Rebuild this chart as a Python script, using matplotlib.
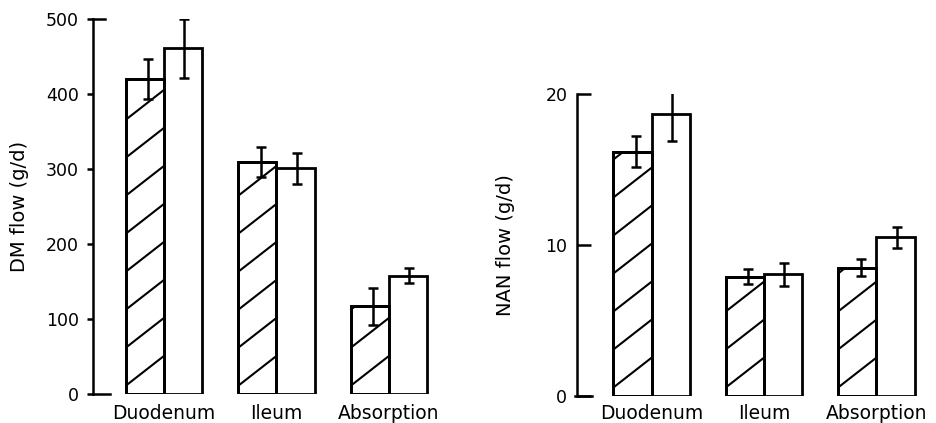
import numpy as np
import matplotlib
matplotlib.use('Agg')
import matplotlib.pyplot as plt
from matplotlib.lines import Line2D
from matplotlib.transforms import IdentityTransform

sites = ['Duodenum', 'Ileum', 'Absorption']

dm_hatched = [420, 310, 117]
dm_hatched_err = [27, 20, 25]
dm_open = [461, 301, 158]
dm_open_err = [39, 21, 10]

nan_hatched = [16.2, 7.9, 8.5]
nan_hatched_err = [1.05, 0.52, 0.55]
nan_open = [18.7, 8.05, 10.5]
nan_open_err = [1.78, 0.74, 0.68]

plt.rcParams['font.family'] = 'DejaVu Sans'

fig = plt.figure(figsize=(9.36, 4.23), dpi=100)
W = 936

ax1 = fig.add_axes([93/W, 29/423, 3.08*112.5/W, 375/423])
ax2 = fig.add_axes([577/W, 27.3/423, 3.11*112.5/W, 301.4/423])

bw = 0.34
x = np.arange(len(sites))


def hatch_bar(ax, bar, spacing=38, slope=0.78, lw=1.5):
    # sparse diagonal hatch drawn in pixel space, clipped to the bar
    (x0, y0), (x1, y1) = ax.transData.transform(
        [(bar.get_x(), bar.get_y()), (bar.get_x() + bar.get_width(), bar.get_y() + bar.get_height())])
    w = x1 - x0
    k = -slope * w
    while k < (y1 - y0):
        ln = Line2D([x0, x1], [y0 + k, y0 + k + slope * w], transform=IdentityTransform(),
                    color='black', lw=lw, zorder=2.5, solid_capstyle='butt')
        ax.add_artist(ln)
        ln.set_clip_path(bar.get_path(), bar.get_transform())
        k += spacing


def panel(ax, hv, he, ov, oe, ymax, yticks, ylabel, xmin, xpad):
    ax.set_xlim(xmin, 2.45)
    ax.set_ylim(0, ymax)
    hb = ax.bar(x - bw/2, hv, bw, color='white', edgecolor='black', lw=2, zorder=2)
    ob = ax.bar(x + bw/2, ov, bw, color='white', edgecolor='black', lw=2, zorder=2)
    ax.bar(x - bw/2, hv, bw, fill=False, edgecolor='black', lw=2, zorder=3)
    ax.errorbar(x - bw/2 + 0.03, hv, yerr=he, fmt='none', ecolor='black', elinewidth=1.8,
                capsize=3.8, capthick=1.8, zorder=4)
    ax.errorbar(x + bw/2 + 0.01, ov, yerr=oe, fmt='none', ecolor='black', elinewidth=1.8,
                capsize=3.8, capthick=1.8, zorder=4)
    for b in hb:
        hatch_bar(ax, b)
    for s in ['top', 'right', 'bottom']:
        ax.spines[s].set_visible(False)
    ax.spines['left'].set_linewidth(1.8)
    ax.set_yticks(yticks)
    ax.set_xticks(x)
    ax.set_xticklabels(sites, fontsize=13.5)
    ax.tick_params(axis='x', length=0, pad=xpad)
    ax.set_ylabel(ylabel, fontsize=14)
    return hb, ob


panel(ax1, dm_hatched, dm_hatched_err, dm_open, dm_open_err, 500,
      [0, 100, 200, 300, 400, 500], 'DM flow (g/d)', -0.63, 7.5)
ax1.tick_params(axis='y', direction='out', length=4, width=1.8, pad=6, labelsize=12.5)
ax1.axhline(500, xmin=0, xmax=12/347, color='black', lw=1.8, clip_on=False)
ax1.axhline(0, xmin=0, xmax=17/347, color='black', lw=1.8, clip_on=False)
ax1.yaxis.set_label_coords(-0.185, 0.5)

panel(ax2, nan_hatched, nan_hatched_err, nan_open, nan_open_err, 20,
      [0, 10, 20], 'NAN flow (g/d)', -0.664, 6)
ax2.tick_params(axis='y', direction='in', length=10, width=1.8, pad=7, labelsize=12.5)
ax2.axhline(0, xmin=-2/350, xmax=15/350, color='black', lw=1.8, clip_on=False)
ax2.yaxis.set_label_coords(-0.177, 0.5)

fig.savefig('out.png', dpi=100)
